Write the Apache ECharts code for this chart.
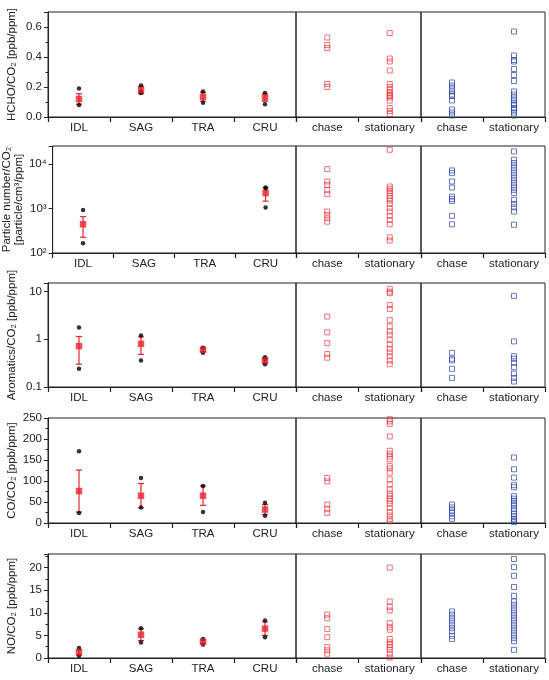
<!DOCTYPE html>
<html><head><meta charset="utf-8">
<script src="https://cdn.jsdelivr.net/npm/echarts@6/dist/echarts.min.js"></script>
<style>html,body{margin:0;padding:0;background:#fff}#c{width:549px;height:680px}</style>
</head><body><div id="c"></div>
<script>
// ---------- categories ----------
const leftCats = ['IDL', 'SAG', 'TRA', 'CRU'];
const sideCats = ['chase', 'stationary'];

// ---------- HCHO/CO2 ----------
const hchoDots = [['IDL',0.19],['IDL',0.08],['SAG',0.21],['SAG',0.17],['SAG',0.16],['TRA',0.17],['TRA',0.095],['CRU',0.16],['CRU',0.085]];
const hchoMean = [0.12, 0.18, 0.135, 0.13];
const hchoErr  = [0.035, 0.025, 0.03, 0.025];
const hchoChaseRed = [0.53, 0.48, 0.46, 0.22, 0.2];
const hchoStatRed  = [0.56, 0.39, 0.37, 0.31, 0.22, 0.2, 0.18, 0.16, 0.15, 0.14, 0.13, 0.11, 0.06, 0.04, 0.02];
const hchoChaseBlue = [0.23, 0.21, 0.19, 0.17, 0.15, 0.14, 0.11, 0.05, 0.03, 0.01];
const hchoStatBlue  = [0.57, 0.41, 0.38, 0.37, 0.32, 0.28, 0.24, 0.17, 0.15, 0.13, 0.11, 0.09, 0.08, 0.06, 0.05, 0.03, 0.01];

// ---------- Particle number/CO2 ----------
const pnDots = [['IDL',925],['IDL',165],['CRU',2930],['CRU',2750],['CRU',1040]];
const pnMean = [440, null, null, 2200];
const pnErr  = [215, null, null, 750];
const pnChaseRed = [7600, 4000, 3370, 2600, 2080, 850, 715, 600, 505];
const pnStatRed  = [20600, 3090, 2740, 2470, 2200, 1910, 1690, 1500, 1260, 1010, 850, 680, 550, 440, 225, 190];
const pnChaseBlue = [7080, 6170, 4000, 2930, 1840, 1630, 1470, 680, 440];
const pnStatBlue  = [18900, 12300, 10400, 8700, 7330, 6170, 5190, 4370, 3680, 3090, 2600, 2200, 1550, 1260, 1060, 850, 430];

// ---------- Aromatics/CO2 ----------
const aroDots = [['IDL',1.76],['IDL',0.24],['SAG',1.2],['SAG',0.36],['TRA',0.66],['TRA',0.52],['CRU',0.42],['CRU',0.38],['CRU',0.30]];
const aroMean = [0.72, 0.8, 0.6, 0.36];
const aroErr  = [0.42, 0.32, 0.05, 0.05];
const aroChaseRed = [2.98, 1.39, 0.83, 0.49, 0.41];
const aroStatRed  = [11.3, 9.9, 9.2, 5.2, 4.3, 2.5, 1.85, 1.45, 1.24, 0.98, 0.77, 0.63, 0.53, 0.44, 0.36, 0.30];
const aroChaseBlue = [0.52, 0.39, 0.36, 0.24, 0.155];
const aroStatBlue  = [8.05, 0.9, 0.44, 0.39, 0.32, 0.26, 0.19, 0.155, 0.13];

// ---------- CO/CO2 ----------
const coDots = [['IDL',171],['IDL',24],['SAG',107],['SAG',37],['TRA',88],['TRA',26],['CRU',48],['CRU',17]];
const coMean = [76, 65, 65, 32];
const coErr  = [50, 29, 23, 12];
const coChaseRed = [107, 99, 44, 34, 24];
const coStatRed  = [247, 242, 236, 206, 172, 165, 158, 152, 136, 130, 120, 104, 92, 80, 70, 64, 58, 53, 46, 36, 26, 18, 10, 4];
const coChaseBlue = [44, 37, 30, 24, 16, 10];
const coStatBlue  = [156, 128, 108, 90, 85, 64, 58, 53, 48, 42, 34, 28, 22, 16, 10, 6, 2];

// ---------- NO/CO2 ----------
const noDots = [['IDL',2.2],['IDL',0.5],['SAG',6.6],['SAG',3.45],['TRA',4.2],['TRA',3.0],['CRU',8.3],['CRU',4.6]];
const noMean = [1.25, 5.15, 3.6, 6.5];
const noErr  = [0.6, 1.3, 0.4, 1.5];
const noChaseRed = [9.6, 8.8, 6.4, 4.6, 2.4, 1.7, 0.95];
const noStatRed  = [20, 12.5, 11.3, 10.5, 7.7, 6.8, 6.25, 4.2, 3.45, 2.9, 2.4, 1.8, 0.95, 0.1];
const noChaseBlue = [10.3, 9.6, 8.8, 8.1, 7.35, 6.6, 5.9, 4.9, 4.2];
const noStatBlue  = [21.9, 20.1, 18.2, 15.7, 13.75, 12.5, 11.8, 11, 10.3, 9.56, 8.8, 8.1, 7.35, 6.6, 5.9, 5.15, 4.4, 3.7, 1.8];

// ---------- axis settings / tick labels ----------
const axisNames = ['HCHO/CO₂ [ppb/ppm]', 'Particle number/CO₂\n[particle/cm³/ppm]', 'Aromatics/CO₂ [ppb/ppm]', 'CO/CO₂ [ppb/ppm]', 'NO/CO₂ [ppb/ppm]'];
const axisLog = [false, true, true, false, false];
const axisMin = [0, 100, 0.1, 0, 0];
const axisMax = [0.7, 25000, 15, 250, 23];
const axisInterval = [0.2, null, null, 50, 5];
const supers = {'2':'²','3':'³','4':'⁴'};

const rowsData = [
  [hchoDots, hchoMean, hchoErr, hchoChaseRed, hchoStatRed, hchoChaseBlue, hchoStatBlue],
  [pnDots, pnMean, pnErr, pnChaseRed, pnStatRed, pnChaseBlue, pnStatBlue],
  [aroDots, aroMean, aroErr, aroChaseRed, aroStatRed, aroChaseBlue, aroStatBlue],
  [coDots, coMean, coErr, coChaseRed, coStatRed, coChaseBlue, coStatBlue],
  [noDots, noMean, noErr, noChaseRed, noStatRed, noChaseBlue, noStatBlue]
];

// ---------- layout ----------
const rowTop = [12, 146, 283, 418, 554];
const rowH = [105, 107, 104, 105, 104];
const colLeft = [48, 296, 421];
const colW = [248, 125, 124];
const FONT = 'Liberation Sans, Arial, sans-serif';
const INK = '#222';
const RED = '#e8242c';
const RED_OPEN = 'rgba(232,40,50,0.8)';
const BLUE_OPEN = 'rgba(35,60,165,0.85)';

const option = {animation:false, backgroundColor:'#fff', textStyle:{fontFamily:FONT}, grid:[], xAxis:[], yAxis:[], series:[]};

function yFmt(r){
  return function(v){
    if (axisLog[r]) {
      const e = Math.round(Math.log10(v));
      if (Math.abs(Math.log10(v) - e) > 1e-6) return '';
      if (r === 1) return '10' + supers[String(e)];
      return v >= 1 ? String(Math.round(v)) : String(v);
    }
    const iv = axisInterval[r];
    if (Math.abs(v / iv - Math.round(v / iv)) > 1e-6) return '';
    return iv < 1 ? v.toFixed(1) : String(v);
  };
}

rowsData.forEach(function(rd, r){
  const [dots, mean, err, chR, stR, chB, stB] = rd;
  for (let p = 0; p < 3; p++) {
    const gi = r * 3 + p;
    option.grid.push({left: colLeft[p], width: colW[p], top: rowTop[r], height: rowH[r], show: true, borderColor: INK, borderWidth: 1, backgroundColor: 'transparent'});
    option.xAxis.push({
      type: 'category', gridIndex: gi, data: p === 0 ? leftCats : sideCats, boundaryGap: true,
      axisLine: {lineStyle: {color: INK, width: 1}},
      axisTick: {show: true, length: 5, interval: 0, lineStyle: {color: INK, width: 1.2}},
      axisLabel: {color: INK, fontSize: 11.5, margin: 5, interval: 0, fontFamily: FONT},
      splitLine: {show: false}
    });
    const y = {
      type: axisLog[r] ? 'log' : 'value', gridIndex: gi, min: axisMin[r], max: axisMax[r],
      show: p === 0, splitLine: {show: false},
      axisLine: {show: true, lineStyle: {color: INK, width: 1}},
      axisTick: {show: true, length: 4, lineStyle: {color: INK}},
      axisLabel: {color: INK, fontSize: 11.5, margin: 6, fontFamily: FONT, formatter: yFmt(r)}
    };
    if (axisLog[r]) { y.logBase = 10; }
    else { y.interval = axisInterval[r]; y.minorTick = {show: true, splitNumber: 2, length: 2.5, lineStyle: {color: INK}}; }
    if (p === 0) {
      y.name = axisNames[r]; y.nameLocation = 'middle'; y.nameRotate = 90;
      y.nameGap = r === 1 ? 24 : 30;
      y.nameTextStyle = {color: INK, fontSize: 11.5, fontFamily: FONT, lineHeight: 12};
    }
    option.yAxis.push(y);

    if (p === 0) {
      option.series.push({
        type: 'custom', xAxisIndex: gi, yAxisIndex: gi, z: 3,
        data: mean.map(function(m, i){ return m == null ? null : [i, m, err[i]]; }).filter(function(d){ return d; }),
        encode: {x: 0, y: 1},
        renderItem: function(params, api){
          const x = api.value(0), m = api.value(1), e = api.value(2);
          const hi = api.coord([x, m + e]);
          const lo = api.coord([x, m - e]);
          const w = 3;
          const st = {stroke: RED, lineWidth: 1.2};
          return {type: 'group', children: [
            {type: 'line', shape: {x1: hi[0], y1: hi[1], x2: lo[0], y2: lo[1]}, style: st},
            {type: 'line', shape: {x1: hi[0] - w, y1: hi[1], x2: hi[0] + w, y2: hi[1]}, style: st},
            {type: 'line', shape: {x1: lo[0] - w, y1: lo[1], x2: lo[0] + w, y2: lo[1]}, style: st}
          ]};
        }
      });
      option.series.push({type: 'scatter', xAxisIndex: gi, yAxisIndex: gi, z: 4, symbol: 'circle', symbolSize: 4.5,
        itemStyle: {color: '#000'}, data: dots});
      option.series.push({type: 'scatter', xAxisIndex: gi, yAxisIndex: gi, z: 5, symbol: 'rect', symbolSize: 6.5,
        itemStyle: {color: RED},
        data: mean.map(function(m, i){ return m == null ? null : [leftCats[i], m]; }).filter(function(d){ return d; })});
    } else {
      const col = p === 1 ? RED_OPEN : BLUE_OPEN;
      const ch = p === 1 ? chR : chB, stv = p === 1 ? stR : stB;
      option.series.push({type: 'scatter', xAxisIndex: gi, yAxisIndex: gi, symbol: 'rect', symbolSize: 5,
        itemStyle: {color: 'rgba(255,255,255,0)', borderColor: col, borderWidth: 1},
        data: ch.map(function(v){ return ['chase', v]; }).concat(stv.map(function(v){ return ['stationary', v]; }))});
    }
  }
});

const chart = echarts.init(document.getElementById('c'), null, {renderer: 'canvas'});
chart.setOption(option);
</script>
</body></html>
